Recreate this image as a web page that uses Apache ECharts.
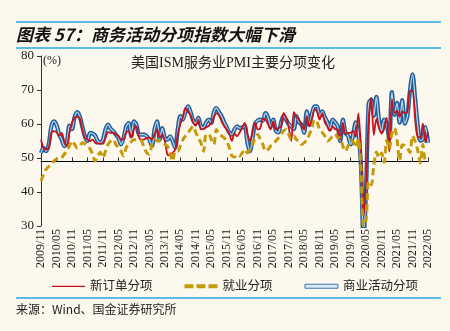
<!DOCTYPE html>
<html>
<head>
<meta charset="utf-8">
<script src="https://cdn.jsdelivr.net/npm/echarts@6/dist/echarts.min.js"></script>
<style>
  html, body { margin: 0; padding: 0; background: #FCF8EE; }
  #chart { width: 450px; height: 331px; }
</style>
</head>
<body>
<div id="chart"></div>
<script>
// Monthly categories, 2009/11 .. 2022/05
const START_YEAR = 2009, START_MONTH = 11, MONTH_COUNT = 151;
const months = [];
for (let k = 0; k < MONTH_COUNT; k++) {
  const m0 = START_MONTH - 1 + k;
  const y = START_YEAR + Math.floor(m0 / 12);
  const m = (m0 % 12) + 1;
  months.push(y + '/' + (m < 10 ? '0' + m : m));
}

// ISM services: new orders sub-index
const newOrders = [
  55.4, 53,
  52.5, 53, 57.4, 57.9, 57.6, 56.6, 57.4, 55, 53.5, 57.4, 60.3, 61.8,
  62.1, 61.8, 58.4, 55.9, 55.4, 55, 55.4, 54.5, 54.2, 54.3, 54.2, 55.9,
  57.6, 57.4, 57.4, 56.9, 56.4, 55.4, 55.5, 57.5, 57.9, 56, 58.5, 59.3,
  56, 55.4, 55.5, 55.9, 56, 55.5, 57, 58.4, 56, 56.9, 55, 51,
  50.8, 51.5, 52.5, 56.9, 60, 62, 64.7, 63.5, 62.7, 60.3, 59.5, 61.3,
  58.4, 58.6, 59, 59.5, 60.3, 62, 63.2, 62.5, 60.8, 59.3, 58.4, 57,
  55, 57.2, 56.4, 57.5, 58.9, 60.3, 57, 55, 57.5, 60.3, 58.4, 58.8,
  61.5, 61.3, 60, 58.4, 60.8, 58.4, 58.8, 59.3, 63.2, 61.8, 59, 55,
  63.5, 62, 61.3, 59.5, 58.4, 62.3, 59.3, 61.5, 64.2, 63.7, 61.3, 63.2,
  60.5, 59.3, 58, 59.3, 58.5, 58.4, 55.4, 60.3, 57, 57.4, 57.4, 58,
  56.2, 63.1, 52.9, 32.9, 41.9, 61.6, 67.7, 56.8, 61.5, 58.8, 57.2, 58.6,
  61.8, 51.9, 67.2, 63.2, 63.9, 62.1, 63.7, 63.2, 63.5, 69.7, 69.7, 61.5,
  56.1, 56.1, 60.1, 54.6, 57.6
];

// ISM services: employment sub-index
const employment = [
  43.2, 45.2,
  46.7, 47.5, 48.1, 49.1, 49.6, 49.6, 50.1, 51.1, 52, 53.5, 55, 54,
  53, 53.5, 54.5, 54.2, 53.5, 52.7, 51.1, 49.1, 50.6, 51.7, 50.1, 52,
  54, 55, 55.4, 54, 53, 52, 50.6, 53, 54, 54.8, 55.4, 55.4,
  55.4, 55, 53, 51.5, 51.1, 54, 55.4, 55, 55, 54.5, 54, 53.5,
  51.5, 49.1, 52, 52, 53.5, 55.4, 56.5, 57.4, 58.5, 59.3, 57.5, 55.9,
  54.5, 52, 56.9, 56.9, 55.5, 54, 58.4, 57, 56.5, 55.9, 55, 53,
  50.6, 50.3, 51, 50.6, 51.5, 52.5, 51.5, 52.5, 54, 55.9, 56.9, 55.5,
  54, 52, 52.5, 53.5, 54, 55, 55.9, 56.9, 58, 58.4, 57, 55.5,
  56.5, 55.4, 55, 54, 54.5, 55.5, 56.9, 59, 61.3, 60.5, 58.4, 57.5,
  56.5, 55, 55.5, 56.4, 57, 56, 55.9, 53.5, 52, 53.5, 55.2, 54.8,
  53.1, 55.6, 47, 30, 31.8, 43.1, 42.1, 47.9, 51.8, 50.1, 51.5, 48.7,
  55.2, 52.7, 57.2, 58.8, 55.3, 49.3, 53.8, 53.7, 53, 51.6, 56.5, 54.9,
  52.3, 48.5, 54, 49.5, 50.2
];

// ISM services: business activity sub-index
const businessActivity = [
  51.5, 53,
  52, 54, 59.3, 60.8, 59.8, 57, 55.5, 53.5, 54.5, 59.5, 58.5, 62,
  63.5, 62.3, 59.3, 56.4, 55, 57.4, 57.2, 56.6, 55, 54.5, 55.4, 58.4,
  59.8, 58.6, 57.9, 56.9, 55.9, 54, 55.9, 59.3, 60.3, 56.4, 60.8, 59.8,
  56.9, 56.9, 56.9, 56.4, 55.4, 53.5, 58.4, 60.8, 55.4, 58.8, 55.9, 55.4,
  56.4, 55, 53, 58.4, 62.3, 61.3, 63.7, 65.2, 63.5, 61, 60.3, 61.8,
  59.3, 58.9, 60.5, 61.3, 60.3, 63.5, 64.7, 63.5, 62.3, 60.5, 59, 57.5,
  56.9, 58.4, 59.3, 58.8, 59, 59.3, 54.5, 52, 56, 60.2, 61, 61.3,
  61, 63.2, 62, 59.3, 61.3, 58, 57.5, 60.3, 62.3, 61.3, 60, 59.3,
  58.5, 62.3, 60.5, 59.8, 57.4, 63.7, 59.8, 63, 65.2, 65.2, 62.3, 63.7,
  62, 60.5, 58.4, 61.3, 60.5, 59.3, 55, 61.3, 57.4, 56.5, 54, 57,
  60.5, 57.3, 48, 26, 41, 66, 67.2, 62.4, 68, 61.2, 58, 61.3,
  59.9, 55.5, 69.4, 62.7, 66.2, 60.4, 67, 60.1, 62.3, 69.8, 74.6, 67.6,
  59.9, 55.1, 55.5, 59.1, 54.5
];

const Y_MIN = 30, Y_MAX = 80, Y_STEP = 10;
const AXIS_CROSS = 49;          // horizontal base line sits just under 50
const GRID = { left: 41, right: 22, top: 56, bottom: 105 };
const GRID_H = 331 - GRID.top - GRID.bottom;
const crossOffset = -(AXIS_CROSS - Y_MIN) / (Y_MAX - Y_MIN) * GRID_H;

const SERIF = '"Liberation Serif", "Noto Sans CJK SC", serif';
const CJK = '"Noto Sans CJK SC", sans-serif';
const RULE = '#29A6E4';
const RED = '#C8101A', GOLD = '#C59A08', BLUE = '#1F5E98', BLUE_IN = '#B8D2E8';

// legend glyphs: thin solid bar, three dashes, outlined bar
const ICON_SOLID = 'path://M0,0H1V0.01H0Z M0,1.4H33V2.8H0Z M0,4H1V4.01H0Z';
const ICON_DASH = 'path://M0,0H9V4H0Z M12,0H21V4H12Z M24,0H33V4H24Z';

const chart = echarts.init(document.getElementById('chart'), null, { renderer: 'canvas' });

chart.setOption({
  backgroundColor: '#FCF8EE',
  animation: false,
  title: {
    text: '美国ISM服务业PMI主要分项变化',
    left: 228, top: 51, textAlign: 'center',
    textStyle: { fontFamily: SERIF, fontSize: 14, fontWeight: 'normal', color: '#222' }
  },
  grid: GRID,
  legend: {
    left: 47, top: 275,
    itemWidth: 33, itemHeight: 4, itemGap: 32,
    textStyle: { fontFamily: SERIF, fontSize: 12.5, color: '#222' },
    data: [
      { name: '新订单分项', icon: ICON_SOLID, itemStyle: { color: RED } },
      { name: '就业分项', icon: ICON_DASH, itemStyle: { color: GOLD } },
      { name: '商业活动分项', icon: 'rect',
        itemStyle: { color: '#DCE8F3', borderColor: '#3D74A8', borderWidth: 1 } }
    ]
  },
  xAxis: [
    {
      type: 'category', data: months, boundaryGap: false,
      axisLine: { show: false }, axisTick: { show: false },
      axisLabel: { interval: 5, rotate: 90, margin: 3,
        fontFamily: SERIF, fontSize: 12, color: '#222' }
    },
    {
      type: 'category', data: months, boundaryGap: false,
      position: 'bottom', offset: crossOffset,
      axisLine: { show: true, lineStyle: { color: '#000', width: 1 } },
      axisTick: { show: true, inside: true, interval: 5, length: 4, lineStyle: { color: '#333' } },
      axisLabel: { show: false }
    }
  ],
  yAxis: {
    type: 'value', min: Y_MIN, max: Y_MAX, interval: Y_STEP,
    splitLine: { show: false },
    axisLine: { show: true, lineStyle: { color: '#333' } },
    axisTick: { show: true, length: 4, lineStyle: { color: '#333' } },
    axisLabel: { fontFamily: SERIF, fontSize: 13, color: '#222', margin: 7 }
  },
  graphic: [
    { type: 'line', shape: { x1: 16, y1: 22, x2: 441, y2: 22 }, style: { stroke: RULE, lineWidth: 1.5 } },
    { type: 'line', shape: { x1: 16, y1: 48, x2: 441, y2: 48 }, style: { stroke: RULE, lineWidth: 1.5 } },
    { type: 'line', shape: { x1: 16, y1: 298, x2: 441, y2: 298 }, style: { stroke: RULE, lineWidth: 1.5 } },
    { type: 'text', x: 16, y: 35,
      style: { text: '图表 57：商务活动分项指数大幅下滑', fill: '#111',
        font: 'italic bold 17px ' + CJK, verticalAlign: 'middle' } },
    { type: 'text', x: 43, y: 61,
      style: { text: '(%)', fill: '#222', font: '12px ' + SERIF, verticalAlign: 'middle' } },
    { type: 'text', x: 16, y: 309,
      style: { text: '来源：Wind、国金证券研究所', fill: '#222', font: '12px ' + CJK, verticalAlign: 'middle' } }
  ],
  series: [
    {
      name: '商业活动分项', type: 'line', data: businessActivity,
      smooth: 0.3, symbol: 'none', z: 2,
      lineStyle: { color: BLUE, width: 4.2 },
      itemStyle: { color: BLUE }
    },
    {
      name: '商业活动分项', type: 'line', data: businessActivity,
      smooth: 0.3, symbol: 'none', z: 3,
      lineStyle: { color: BLUE_IN, width: 1.3 },
      itemStyle: { color: BLUE_IN }
    },
    {
      name: '新订单分项', type: 'line', data: newOrders,
      smooth: 0.3, symbol: 'none', z: 4,
      lineStyle: { color: RED, width: 1.8 },
      itemStyle: { color: RED }
    },
    {
      name: '就业分项', type: 'line', data: employment,
      smooth: 0.3, symbol: 'none', z: 5,
      lineStyle: { color: GOLD, width: 3, type: [7, 4] },
      itemStyle: { color: GOLD }
    }
  ]
});
</script>
</body>
</html>
